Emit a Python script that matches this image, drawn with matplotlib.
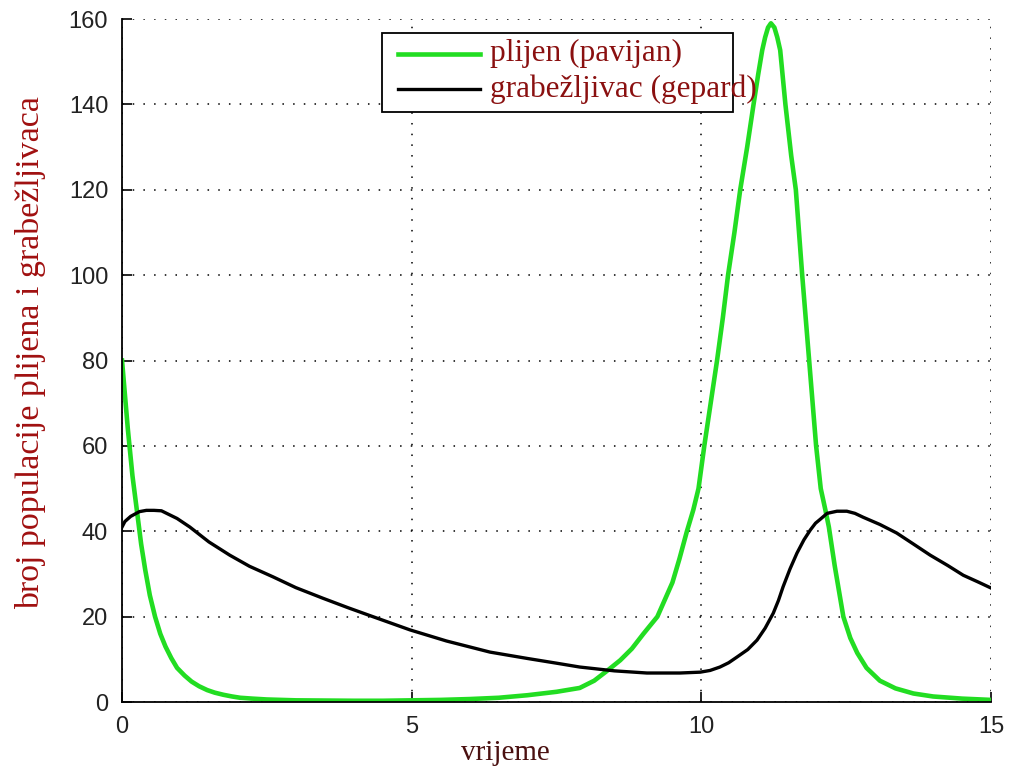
import numpy as np
import matplotlib
matplotlib.use("Agg")
import matplotlib.pyplot as plt
from matplotlib.patches import Rectangle
from matplotlib.lines import Line2D

## Data
t_plijen = [0.0, 0.05, 0.1, 0.18, 0.26, 0.33, 0.4, 0.48, 0.57, 0.66, 0.75, 0.85, 0.95,
            1.08, 1.2, 1.33, 1.47, 1.6, 1.75, 1.9, 2.04, 2.25, 2.5, 2.75, 3.0, 3.5,
            4.0, 4.5, 5.0, 5.5, 6.0, 6.5, 7.0, 7.5, 7.9, 8.15, 8.39, 8.6, 8.8, 9.0,
            9.24, 9.5, 9.62, 9.75, 9.86, 9.95, 10.05, 10.16, 10.27, 10.37, 10.46,
            10.57, 10.67, 10.79, 10.9, 10.98, 11.05, 11.1, 11.15, 11.2, 11.26, 11.31,
            11.36, 11.45, 11.55, 11.63, 11.74, 11.86, 11.92, 11.98, 12.06, 12.14,
            12.2, 12.3, 12.45, 12.57, 12.69, 12.85, 13.08, 13.35, 13.66, 14.0, 14.5,
            15.0]
plijen = [80, 72, 64, 53, 44.5, 37, 31, 25, 20, 16, 13, 10.3, 8,
          6.2, 4.8, 3.7, 2.8, 2.2, 1.7, 1.3, 1.0, 0.8, 0.6, 0.5, 0.4, 0.35,
          0.3, 0.3, 0.4, 0.5, 0.7, 1.0, 1.6, 2.4, 3.3, 5, 7.5, 9.8, 12.5, 16,
          20, 28, 33.5, 40, 45, 50, 60, 70, 80, 90, 100,
          110, 120, 130, 140, 147, 152.7, 155.7, 158, 159, 158, 155.7,
          152.7, 140, 128, 120, 100, 80, 70, 60, 50, 45,
          41, 32, 20, 15, 11.5, 8, 5, 3.2, 2.0, 1.3, 0.8,
          0.5]

t_grabezljivac = [0.0, 0.05, 0.15, 0.3, 0.42, 0.55, 0.68, 0.8, 0.95, 1.17, 1.5, 1.86,
                  2.2, 2.61, 3.0, 3.47, 3.9, 4.33, 4.97, 5.6, 6.35, 7.0, 7.5, 7.9, 8.5,
                  9.06, 9.63, 9.98, 10.15, 10.32, 10.47, 10.61, 10.8, 10.96, 11.1, 11.24,
                  11.33, 11.41, 11.53, 11.65, 11.77, 11.88, 11.97, 12.05, 12.17, 12.34,
                  12.51, 12.65, 12.79, 13.08, 13.37, 13.65, 13.95, 14.25, 14.52, 14.78,
                  15.0]
grabezljivac = [41, 42.3, 43.5, 44.6, 44.9, 44.9, 44.8, 44.0, 43.0, 41, 37.5, 34.4,
                31.8, 29.3, 26.8, 24.3, 22.1, 20, 16.9, 14.3, 11.7, 10.2, 9.1, 8.2, 7.3,
                6.8, 6.8, 7.0, 7.4, 8.2, 9.2, 10.5, 12.3, 14.5, 17.3, 20.8,
                23.8, 27, 31.2, 34.9, 38, 40.3, 41.9, 42.8, 44.2, 44.7,
                44.7, 44.2, 43.3, 41.6, 39.6, 37.1, 34.4, 32.0, 29.7, 28.1,
                26.7]

x_ticks = [0, 5, 10, 15]
y_ticks = [0, 20, 40, 60, 80, 100, 120, 140, 160]
labels = ["plijen (pavijan)", "grabežljivac (gepard)"]
colors = ["#22dd22", "black"]

fig = plt.figure(figsize=(10.11, 7.73), dpi=100)
ax = fig.add_axes([0.1207, 0.0918, 0.8596, 0.8836])

ax.plot(t_plijen, plijen, color=colors[0], lw=3.3)
ax.plot(t_grabezljivac, grabezljivac, color=colors[1], lw=2.4)

ax.set_xlim(0, 15)
ax.set_ylim(0, 160)
ax.set_xticks(x_ticks)
ax.set_yticks(y_ticks)
ax.grid(True, color="black", linestyle=(0, (1, 6)), linewidth=1.1)
ax.spines["top"].set_visible(False)
ax.spines["right"].set_visible(False)
ax.spines["left"].set_linewidth(1.3)
ax.spines["bottom"].set_linewidth(1.3)
ax.tick_params(direction="in", length=7, width=1.2, pad=10, labelsize=17,
               labelcolor="#222222")
for lbl in ax.get_xticklabels() + ax.get_yticklabels():
    lbl.set_family("Liberation Sans")

ax.set_xlabel("vrijeme", family="Liberation Serif", fontsize=21, color="#4a1010")
ax.xaxis.set_label_coords(0.441, -0.055)
ax.set_ylabel("broj populacije plijena i grabežljivaca", family="Liberation Serif",
              fontsize=24.5, color="#a01010")
ax.yaxis.set_label_coords(-0.088, 0.512)

# legend drawn by hand, the text sticks out of the box like in the original
ax.add_patch(Rectangle((0.2992, 0.8638), 0.4039, 0.1157, transform=ax.transAxes,
                       facecolor="white", edgecolor="black", lw=1.3, zorder=5,
                       clip_on=False))
rows = [0.9490, 0.8975]
for lab, col, ry, lw in zip(labels, colors, rows, [3.3, 2.4]):
    ax.add_line(Line2D([0.3176, 0.4120], [ry, ry], transform=ax.transAxes, color=col,
                       lw=lw, zorder=6, clip_on=False))
    ax.text(0.4235, ry, lab, transform=ax.transAxes, family="Liberation Serif",
            fontsize=22.5, color="#8a1010", va="center", ha="left", zorder=7)

fig.savefig("out.png", dpi=100)
